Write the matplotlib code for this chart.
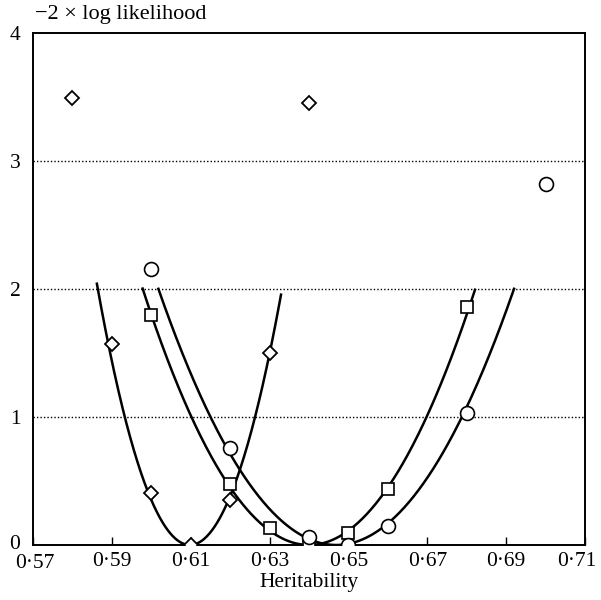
import numpy as np
import matplotlib
matplotlib.use("Agg")
import matplotlib.pyplot as plt
import matplotlib.transforms as mtransforms

# Data points: heritability vs -2 x log likelihood
x_diamond = [0.58, 0.59, 0.60, 0.61, 0.62, 0.63, 0.64]
y_diamond = [3.49, 1.57, 0.41, 0.00, 0.35, 1.50, 3.45]

x_square = [0.60, 0.62, 0.63, 0.64, 0.65, 0.66, 0.68]
y_square = [1.80, 0.48, 0.13, 0.00, 0.09, 0.44, 1.86]

x_circle = [0.60, 0.62, 0.64, 0.65, 0.66, 0.68, 0.70]
y_circle = [2.16, 0.76, 0.06, 0.00, 0.15, 1.03, 2.82]

# Fitted quadratic curves: vertex position, curvature, minimum value, x-range
curve_vertex = [0.6098, 0.6400, 0.6469]
curve_curv = [3665.0, 1125.0, 984.0]
curve_min = [0.0, 0.0, 0.0]
curve_xlo = [0.5862, 0.5978, 0.6018]
curve_xhi = [0.6329, 0.6821, 0.6920]

xticks = [0.57, 0.59, 0.61, 0.63, 0.65, 0.67, 0.69, 0.71]
xtick_labels = ["0·57", "0·59", "0·61", "0·63", "0·65", "0·67", "0·69", "0·71"]
yticks = [0, 1, 2, 3, 4]
ytick_labels = ["0", "1", "2", "3", "4"]

plt.rcParams['font.family'] = ['Liberation Serif', 'DejaVu Serif']

fig = plt.figure(figsize=(6.01, 6.00), dpi=100)
ax = fig.add_axes([33/601, 1-545/600, (585-33)/601, (545-33)/600])

for yv in [1, 2, 3]:
    ax.axhline(yv, color='black', linestyle=(0, (1, 1.5)), linewidth=1.0, zorder=1)

for v, a, m, lo, hi in zip(curve_vertex, curve_curv, curve_min, curve_xlo, curve_xhi):
    xs = np.linspace(lo, hi, 300)
    ax.plot(xs, m + a * (xs - v) ** 2, color='black', linewidth=1.8, zorder=2)

ax.plot(x_diamond, y_diamond, linestyle='none', marker='D', markersize=7.5,
        markerfacecolor='white', markeredgecolor='black', markeredgewidth=1.3, zorder=3)
ax.plot(x_square, y_square, linestyle='none', marker='s', markersize=9,
        markerfacecolor='white', markeredgecolor='black', markeredgewidth=1.2, zorder=3)
ax.plot(x_circle, y_circle, linestyle='none', marker='o', markersize=10,
        markerfacecolor='white', markeredgecolor='black', markeredgewidth=1.2, zorder=3)

ax.set_xlim(0.57, 0.71)
ax.set_ylim(0, 4)
ax.set_xticks(xticks)
ax.set_xticklabels(xtick_labels, fontsize=15.5)
ax.set_yticks(yticks)
ax.set_yticklabels(ytick_labels, fontsize=15.5)
ax.tick_params(axis='x', direction='in', length=6, width=1, pad=5)
ax.tick_params(axis='y', direction='in', length=0, pad=9)
for sp in ax.spines.values():
    sp.set_linewidth(1.4)

# shift edge tick labels so they stay inside the figure and clear of each other
lbls = ax.get_xticklabels()
lbls[-1].set_transform(lbls[-1].get_transform() +
                       mtransforms.ScaledTranslation(-8/100, 0, fig.dpi_scale_trans))
lbls[0].set_transform(lbls[0].get_transform() +
                      mtransforms.ScaledTranslation(2/100, -2/100, fig.dpi_scale_trans))
ylbls = ax.get_yticklabels()
ylbls[0].set_transform(ylbls[0].get_transform() +
                       mtransforms.ScaledTranslation(0, 3/100, fig.dpi_scale_trans))

ax.set_xlabel("Heritability", fontsize=15.5, labelpad=0)
fig.text(33/601 + 0.003, 1 - 14/600, "−2 × log likelihood", fontsize=16,
         ha='left', va='center')

fig.savefig("out.png", dpi=100)
